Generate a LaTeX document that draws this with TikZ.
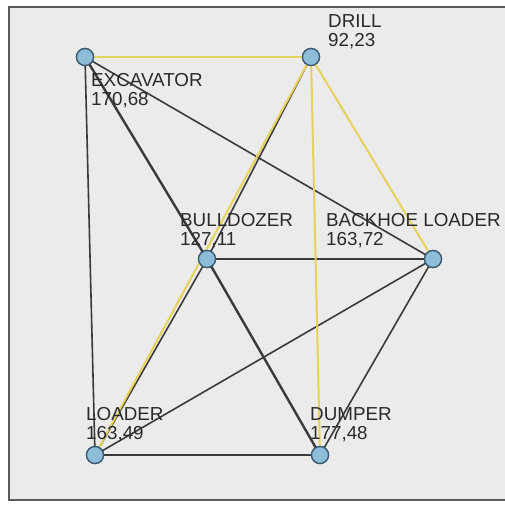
\documentclass[tikz,border=0pt]{standalone}
\usepackage{fontspec}
\setmainfont{Liberation Sans}
\definecolor{bgc}{HTML}{EBEBEB}
\definecolor{framec}{HTML}{5A5A5A}
\definecolor{edgec}{HTML}{3A3A3A}
\definecolor{yelc}{HTML}{E6D25A}
\definecolor{nodefill}{HTML}{8EBDD9}
\definecolor{nodedraw}{HTML}{3B5B72}
\definecolor{txtc}{HTML}{2A2A2A}
\begin{document}
\begin{tikzpicture}[x=1pt,y=-1pt,
  vert/.style={circle,minimum size=17pt,inner sep=0pt,fill=nodefill,draw=nodedraw,line width=1.3pt},
  blk/.style={draw=edgec,line width=1.6pt},
  blkthick/.style={draw=edgec,line width=2.4pt},
  yel/.style={draw=yelc,line width=2pt},
  lab/.style={anchor=north west,inner sep=0pt,align=left,text=txtc,font=\fontsize{18.8}{19}\selectfont}]
\useasboundingbox (0,0) rectangle (505,505);
\fill[white] (0,0) rectangle (505,505);
\begin{scope}
\clip (0,0) rectangle (505,505);
\draw[framec,fill=bgc,line width=2pt] (9,7) rectangle (520,500);
\end{scope}
% vertices
\node[vert] (exc) at (85,57) {};
\node[vert] (dri) at (311,57) {};
\node[vert] (bul) at (207,259) {};
\node[vert] (bac) at (433,259) {};
\node[vert] (loa) at (95,455) {};
\node[vert] (dum) at (320,455) {};
% black edges
\path[blk] (dri.center) -- (bul.center);
\path[blk] (bul.center) -- (loa.center);
\path[blk] (exc.center) -- (loa.center);
\path[blkthick] (exc.center) -- (bul.center);
\path[blkthick] (bul.center) -- (dum.center);
\path[blk] (exc.center) -- (bac.center);
\path[blk] (bul.center) -- (bac.center);
\path[blk] (bac.center) -- (loa.center);
\path[blk] (bac.center) -- (dum.center);
\path[blk] (loa.center) -- (dum.center);
% yellow edges
\path[yel] (exc.center) -- (dri.center);
\path[yel] (dri.center) -- (loa.center);
\path[yel] (dri.center) -- (dum.center);
\path[yel] (dri.center) -- (bac.center);
% redraw vertices on top
\foreach \p in {(85,57),(311,57),(207,259),(433,259),(95,455),(320,455)}
  \node[vert] at \p {};
% labels
\node[lab] (lexc) at (91,73.5) {EXCAVATOR\\170,68};
\node[lab] (ldri) at (328,14.5) {DRILL\\92,23};
\node[lab] (lbul) at (180,213.5) {BULLDOZER\\127,11};
\node[lab] (lbac) at (326,213.5) {BACKHOE LOADER\\163,72};
\node[lab] (lloa) at (86,407.5) {LOADER\\163,49};
\node[lab] (ldum) at (310,407.5) {DUMPER\\177,48};
\end{tikzpicture}
\end{document}
